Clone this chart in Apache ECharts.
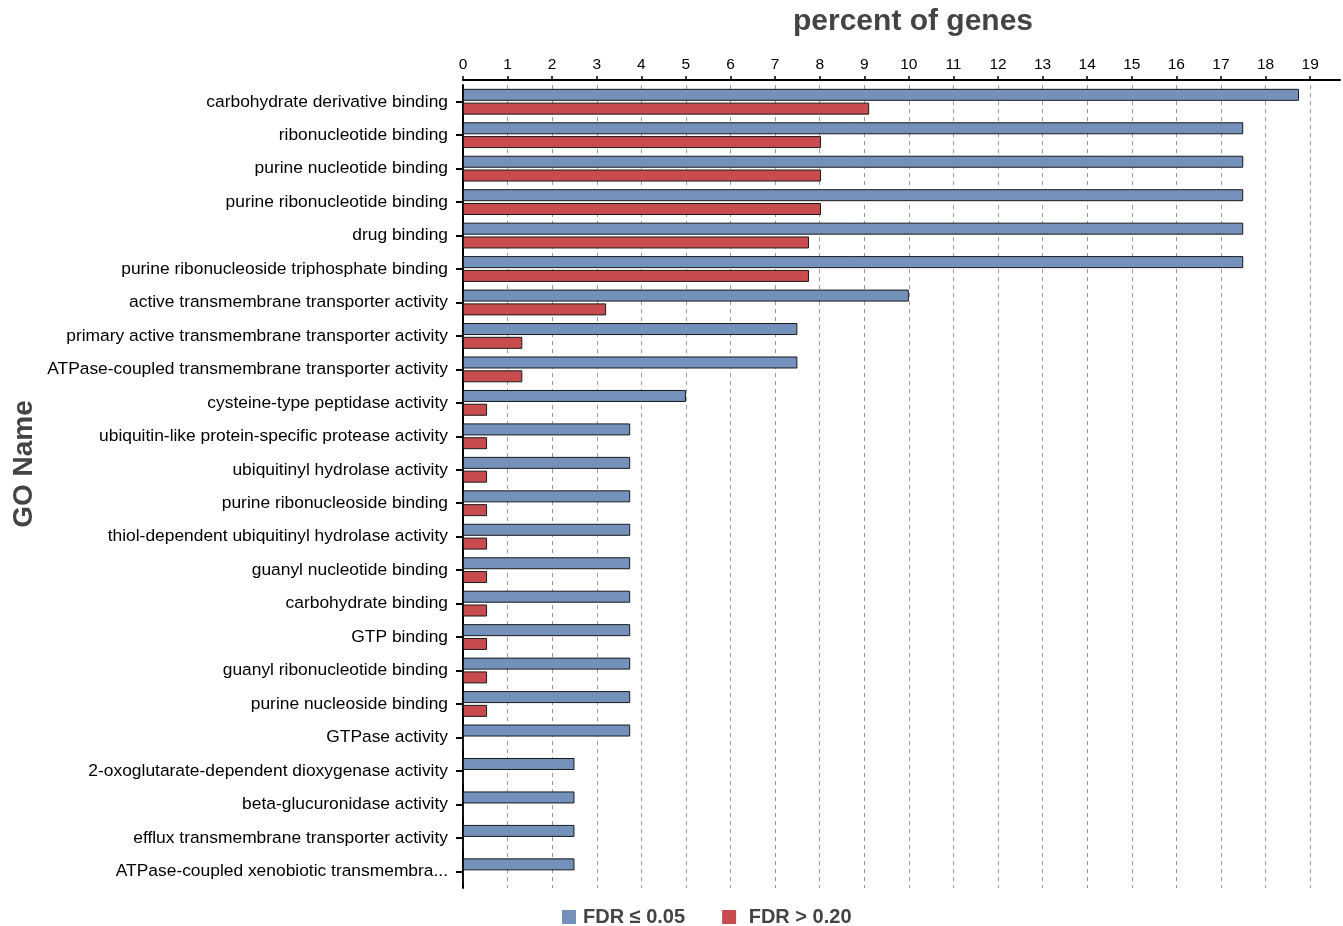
<!DOCTYPE html>
<html>
<head>
<meta charset="utf-8">
<script src="https://cdn.jsdelivr.net/npm/echarts@6/dist/echarts.min.js"></script>
<style>
  html, body { margin: 0; padding: 0; background: #ffffff; }
  #chart { width: 1343px; height: 926px; }
</style>
</head>
<body>
<div id="chart"></div>
<script>
// GO terms, top to bottom
const categories = [
  'carbohydrate derivative binding',
  'ribonucleotide binding',
  'purine nucleotide binding',
  'purine ribonucleotide binding',
  'drug binding',
  'purine ribonucleoside triphosphate binding',
  'active transmembrane transporter activity',
  'primary active transmembrane transporter activity',
  'ATPase-coupled transmembrane transporter activity',
  'cysteine-type peptidase activity',
  'ubiquitin-like protein-specific protease activity',
  'ubiquitinyl hydrolase activity',
  'purine ribonucleoside binding',
  'thiol-dependent ubiquitinyl hydrolase activity',
  'guanyl nucleotide binding',
  'carbohydrate binding',
  'GTP binding',
  'guanyl ribonucleotide binding',
  'purine nucleoside binding',
  'GTPase activity',
  '2-oxoglutarate-dependent dioxygenase activity',
  'beta-glucuronidase activity',
  'efflux transmembrane transporter activity',
  'ATPase-coupled xenobiotic transmembra...'
];

// percent of genes, FDR <= 0.05
const fdrLow = [18.75, 17.5, 17.5, 17.5, 17.5, 17.5, 10.0, 7.5, 7.5, 5.0,
  3.75, 3.75, 3.75, 3.75, 3.75, 3.75, 3.75, 3.75, 3.75, 3.75,
  2.5, 2.5, 2.5, 2.5];

// percent of genes, FDR > 0.20
const fdrHigh = [9.11, 8.03, 8.03, 8.03, 7.76, 7.76, 3.21, 1.33, 1.33, 0.54,
  0.54, 0.54, 0.54, 0.54, 0.54, 0.54, 0.54, 0.54, 0.54, 0,
  0, 0, 0, 0];

const tickValues = [0, 1, 2, 3, 4, 5, 6, 7, 8, 9, 10, 11, 12, 13, 14, 15, 16, 17, 18, 19];

const FONT = '"Liberation Sans", Arial, sans-serif';
const BLUE = '#7391ba';
const RED = '#c84b4e';

const chart = echarts.init(document.getElementById('chart'), null, { renderer: 'canvas' });

chart.setOption({
  animation: false,
  backgroundColor: '#ffffff',
  textStyle: { fontFamily: FONT },
  title: {
    text: 'percent of genes',
    left: 788,
    top: 2,
    textStyle: { fontFamily: FONT, fontSize: 30, fontWeight: 'bold', color: '#444444' }
  },
  graphic: [{
    type: 'text',
    x: 24,
    y: 464,
    rotation: Math.PI / 2,
    style: {
      text: 'GO Name',
      font: 'bold 28px ' + FONT,
      fill: '#444444',
      align: 'center',
      verticalAlign: 'middle'
    }
  }],
  legend: {
    data: ['FDR \u2264 0.05', 'FDR > 0.20'],
    left: 562,
    top: 907,
    padding: 0,
    itemWidth: 14,
    itemHeight: 14,
    itemGap: 37,
    icon: 'rect',
    itemStyle: { borderWidth: 0 },
    formatter: name => (name === 'FDR > 0.20' ? ' ' + name : name),
    textStyle: { fontFamily: FONT, fontSize: 20, fontWeight: 'bold', color: '#444444', padding: [0, 0, 0, 2] }
  },
  grid: {
    left: 463,
    right: 3,
    top: 85,
    bottom: 38,
    containLabel: false
  },
  xAxis: {
    type: 'value',
    position: 'top',
    offset: 5,
    min: 0,
    max: 19.67,
    interval: 1,
    axisLine: { show: true, lineStyle: { color: '#000000', width: 2 } },
    axisTick: { show: true, length: 4, customValues: tickValues, lineStyle: { color: '#000000', width: 1.5 } },
    axisLabel: {
      customValues: tickValues,
      margin: 7,
      fontSize: 15.5,
      color: '#000000',
      fontFamily: FONT
    },
    splitLine: {
      show: true,
      lineStyle: { color: '#9a9a9a', type: [4, 4], width: 1 }
    }
  },
  yAxis: {
    type: 'category',
    data: categories,
    inverse: true,
    offset: 7,
    axisLine: { show: true, lineStyle: { color: '#000000', width: 2 } },
    axisTick: { show: true, alignWithLabel: true, length: 7, lineStyle: { color: '#000000', width: 2 } },
    axisLabel: {
      margin: 8,
      fontSize: 17.4,
      color: '#000000',
      fontFamily: FONT,
      interval: 0
    },
    splitLine: { show: false }
  },
  series: [
    {
      name: 'FDR \u2264 0.05',
      type: 'bar',
      data: fdrLow,
      barWidth: 12,
      barGap: '15%',
      itemStyle: { color: BLUE, borderColor: '#1a1a1a', borderWidth: 1 }
    },
    {
      name: 'FDR > 0.20',
      type: 'bar',
      data: fdrHigh,
      barWidth: 12,
      barGap: '15%',
      itemStyle: { color: RED, borderColor: '#1a1a1a', borderWidth: 1 }
    }
  ]
});
</script>
</body>
</html>
